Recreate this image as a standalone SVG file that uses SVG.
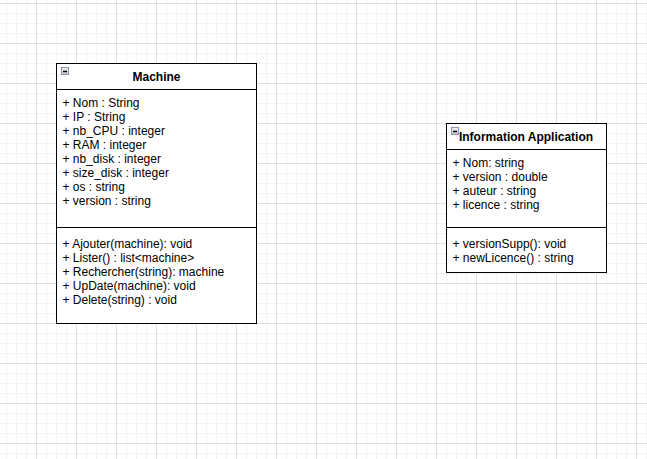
<svg xmlns="http://www.w3.org/2000/svg" width="647" height="459" viewBox="0 0 647 459">
<defs>
<pattern id="grid" patternUnits="userSpaceOnUse" x="-4" y="3" width="40" height="40">
<path d="M10.5 0V40M20.5 0V40M30.5 0V40M0 10.5H40M0 20.5H40M0 30.5H40" stroke="#f3f3f3" stroke-width="1" fill="none"/>
<path d="M0.5 0V40M0 0.5H40" stroke="#e0e0e0" stroke-width="1" fill="none"/>
</pattern>
<linearGradient id="ig" x1="0" y1="0" x2="0" y2="1">
<stop offset="0" stop-color="#f4f4f4"/>
<stop offset="1" stop-color="#c8c8c8"/>
</linearGradient>
</defs>
<style>
.box{fill:#fff;stroke:#000;stroke-width:1}
.sep{stroke:#000;stroke-width:1}
.t{font-family:"Liberation Sans",Arial,sans-serif;font-size:12px;fill:#000}
.h{font-weight:bold;text-anchor:middle}
.ic{fill:url(#ig);stroke:#8796ab;stroke-width:1}
.im{stroke:#000;stroke-width:1.5}
</style>
<rect width="647" height="459" fill="#fff"/>
<rect width="647" height="459" fill="url(#grid)" shape-rendering="crispEdges"/>
<g id="connectors"></g>
<g id="machine">
<rect class="box" x="56.5" y="63.5" width="200" height="260"/>
<line class="sep" x1="56.5" y1="89.5" x2="256.5" y2="89.5"/>
<line class="sep" x1="56.5" y1="227.5" x2="256.5" y2="227.5"/>
<rect class="ic" x="61.5" y="67.5" width="7" height="7"/>
<line class="im" x1="63" y1="71.5" x2="67" y2="71.5"/>
<text class="t h" x="156.5" y="81">Machine</text>
<text class="t" x="62.5" y="107">+ Nom : String</text>
<text class="t" x="62.5" y="121">+ IP : String</text>
<text class="t" x="62.5" y="135">+ nb_CPU : integer</text>
<text class="t" x="62.5" y="149">+ RAM : integer</text>
<text class="t" x="62.5" y="163">+ nb_disk : integer</text>
<text class="t" x="62.5" y="177">+ size_disk : integer</text>
<text class="t" x="62.5" y="191">+ os : string</text>
<text class="t" x="62.5" y="205">+ version : string</text>
<text class="t" x="62.5" y="248">+ Ajouter(machine): void</text>
<text class="t" x="62.5" y="262">+ Lister() : list&lt;machine&gt;</text>
<text class="t" x="62.5" y="276">+ Rechercher(string): machine</text>
<text class="t" x="62.5" y="290">+ UpDate(machine): void</text>
<text class="t" x="62.5" y="304">+ Delete(string) : void</text>
</g>
<g id="information-application">
<rect class="box" x="446.5" y="123.5" width="160" height="149"/>
<line class="sep" x1="446.5" y1="149.5" x2="606.5" y2="149.5"/>
<line class="sep" x1="446.5" y1="227.5" x2="606.5" y2="227.5"/>
<rect class="ic" x="451.5" y="127.5" width="7" height="7"/>
<line class="im" x1="453" y1="131.5" x2="457" y2="131.5"/>
<text class="t h" x="526" y="141">Information Application</text>
<text class="t" x="452.5" y="167">+ Nom: string</text>
<text class="t" x="452.5" y="181">+ version : double</text>
<text class="t" x="452.5" y="195">+ auteur : string</text>
<text class="t" x="452.5" y="209">+ licence : string</text>
<text class="t" x="452.5" y="248">+ versionSupp(): void</text>
<text class="t" x="452.5" y="262">+ newLicence() : string</text>
</g>
</svg>
